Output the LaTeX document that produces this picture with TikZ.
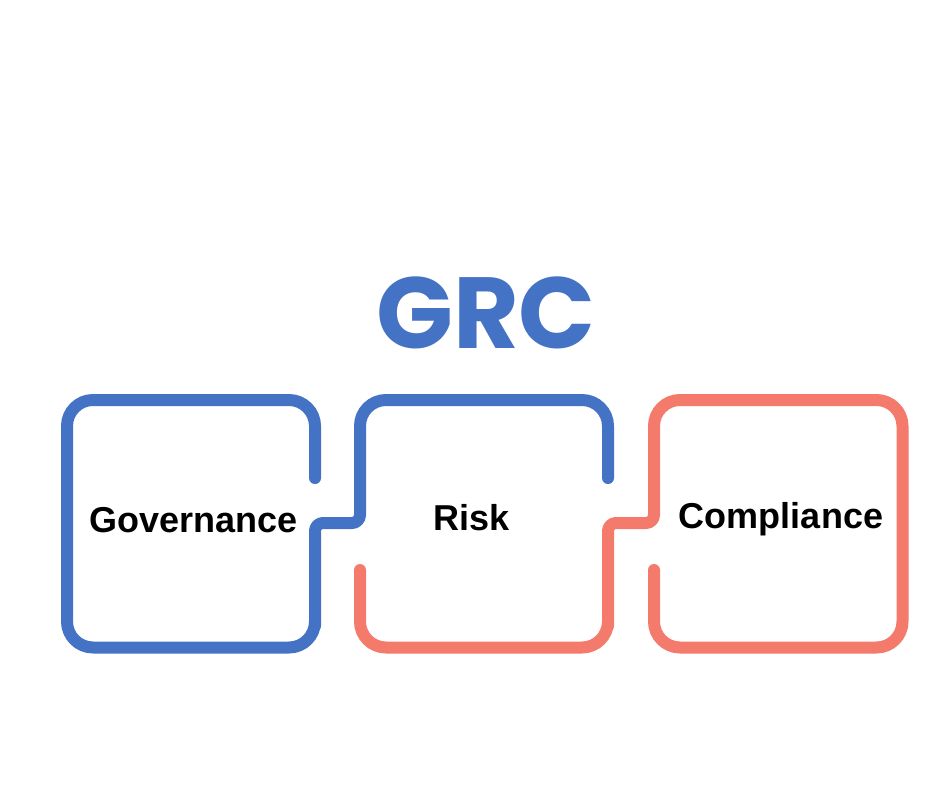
\documentclass[tikz,border=0pt]{standalone}
\usepackage{fontspec}
\setmainfont{Liberation Sans}
\newfontfamily\titlefont{Poppins}[UprightFont=* Bold]
\definecolor{grcblue}{HTML}{4472C4}
\definecolor{grcred}{HTML}{F47A6B}
\begin{document}
\begin{tikzpicture}[x=1pt,y=-1pt,
  chain/.style={line width=12pt, line cap=round, line join=round},
  label/.style={anchor=base, inner sep=0pt, font=\fontsize{36}{40}\selectfont\bfseries, text=black}]
\useasboundingbox[fill=white] (0,0) rectangle (940,788);
% coordinates
\coordinate (gTop) at (315,478);
\coordinate (rEnd) at (608,478);
\coordinate (mLow) at (360,570);
\coordinate (cLow) at (654,570);
% blue chain: Governance box and upper half of Risk box
\draw[chain, grcblue, rounded corners=26pt] (gTop) -- (315,400) -- (67,400) -- (67,647.5) -- (315,647.5) -- (315,600)
  [rounded corners=8pt] -- (315,523) -- (360,523) -- (360,490)
  [rounded corners=26pt] -- (360,400) -- (608,400) -- (rEnd);
% red chain: lower half of Risk box and Compliance box
\draw[chain, grcred, rounded corners=26pt] (mLow) -- (360,647.5) -- (608,647.5) -- (608,600)
  [rounded corners=8pt] -- (608,523) -- (654,523) -- (654,490)
  [rounded corners=26pt] -- (654,400) -- (902.5,400) -- (902.5,647.5) -- (654,647.5) -- (cLow);
% texts
\node[anchor=base, inner sep=0pt, text=grcblue, font=\titlefont\fontsize{101}{110}\selectfont] (title) at (486,348) {GRC};
\node[label] (gov) at (193.5,532) {Governance};
\node[label] (risk) at (472,530) {Risk};
\node[label] (comp) at (781,528) {Compliance};
\end{tikzpicture}
\end{document}
